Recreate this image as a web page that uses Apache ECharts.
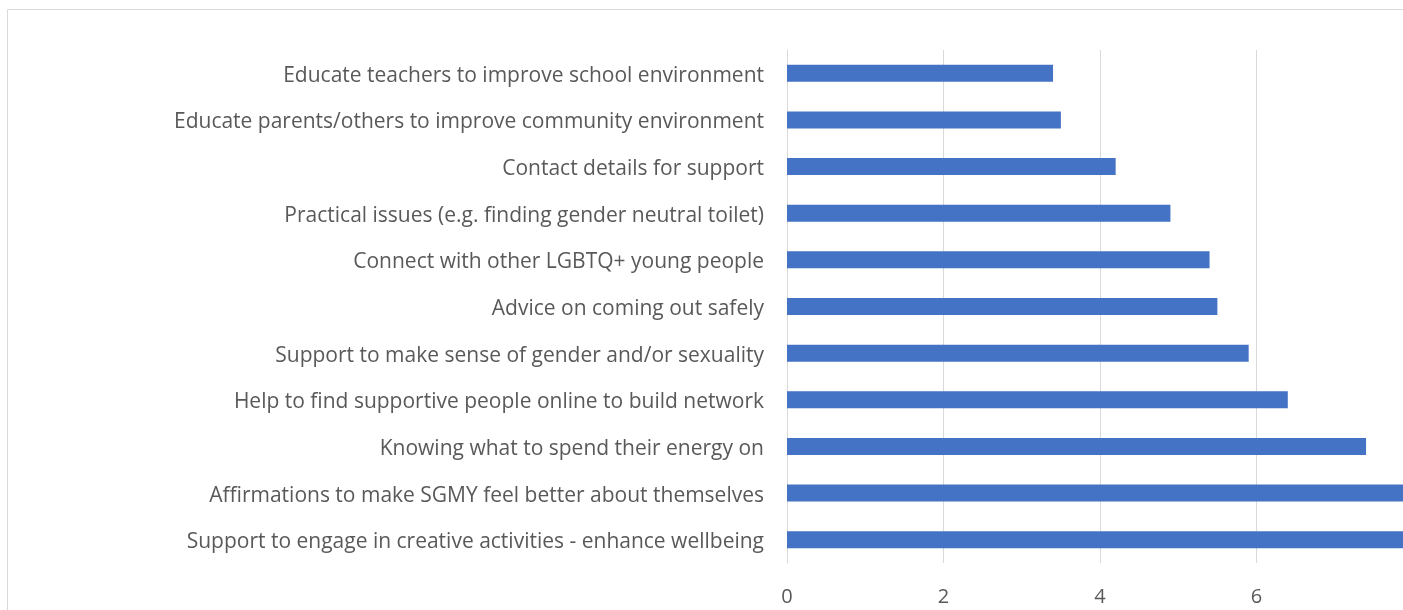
<!DOCTYPE html>
<html>
<head>
<meta charset="utf-8">
<script src="https://cdn.jsdelivr.net/npm/echarts@6/dist/echarts.min.js"></script>
<style>
  html, body { margin: 0; padding: 0; background: #fff; overflow: hidden; }
  #wrap { width: 1403px; height: 610px; overflow: hidden; position: relative; }
  #chart { width: 1423px; height: 610px; position: absolute; left: 0; top: 0; }
</style>
</head>
<body>
<div id="wrap"><div id="chart"></div></div>
<script>
// categories, top to bottom
const categories = [
  'Educate teachers to improve school environment',
  'Educate parents/others to improve community environment',
  'Contact details for support',
  'Practical issues (e.g. finding gender neutral toilet)',
  'Connect with other LGBTQ+ young people',
  'Advice on coming out safely',
  'Support to make sense of gender and/or sexuality',
  'Help to find supportive people online to build network',
  'Knowing what to spend their energy on',
  'Affirmations to make SGMY feel better about themselves',
  'Support to engage in creative activities - enhance wellbeing'
]
const values = [3.4, 3.5, 4.2, 4.9, 5.4, 5.5, 5.9, 6.4, 7.4, 8.0, 8.0]
const xTicks = [0, 2, 4, 6, 8]

// the plot runs a little past the right edge of the page, as in the original crop
const chart = echarts.init(document.getElementById('chart'))

const option = {
  animation: false,
  textStyle: { fontFamily: 'Open Sans' },
  graphic: [
    {
      type: 'rect',
      shape: { x: 7.5, y: 9.5, width: 1500, height: 700 },
      style: { fill: 'none', stroke: '#d9d9d9', lineWidth: 1 },
      silent: true
    }
  ],
  grid: {
    left: 787,
    right: 10,
    top: 50,
    bottom: 47
  },
  xAxis: {
    type: 'value',
    min: xTicks[0],
    max: xTicks[xTicks.length - 1],
    interval: 2,
    axisLine: { show: false },
    axisTick: { show: false },
    splitLine: { lineStyle: { color: '#d9d9d9', width: 1 } },
    axisLabel: { color: '#595959', fontSize: 20, margin: 24 }
  },
  yAxis: {
    type: 'category',
    inverse: true,
    data: categories,
    axisLine: { show: true, lineStyle: { color: '#d9d9d9' } },
    axisTick: { show: false },
    axisLabel: {
      margin: 23,
      formatter: v => '{t|' + v + '}',
      rich: {
        t: { color: '#595959', fontSize: 21, fontFamily: 'Open Sans', padding: [5, 0, 0, 0] }
      }
    }
  },
  series: [
    {
      type: 'bar',
      data: values,
      barWidth: 17,
      itemStyle: { color: '#4472c4' }
    }
  ]
}

chart.setOption(option)
window.addEventListener('resize', () => chart.resize())
</script>
</body>
</html>
